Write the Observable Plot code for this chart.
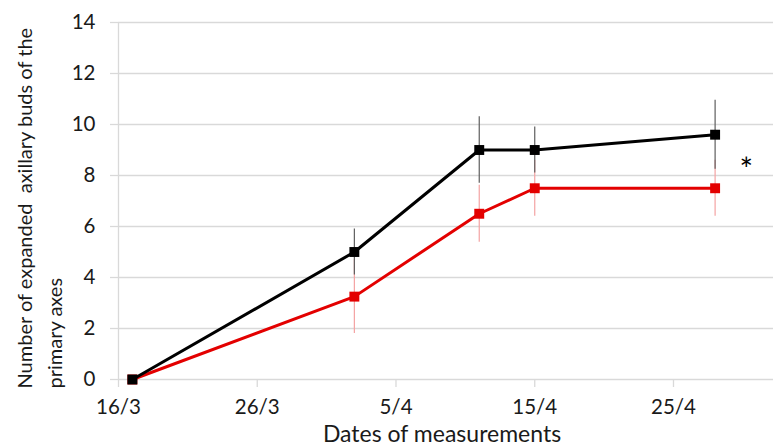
<!DOCTYPE html>
<html>
<head>
<meta charset="utf-8">
<script src="https://cdn.jsdelivr.net/npm/d3@7"></script>
<script src="https://cdn.jsdelivr.net/npm/@observablehq/plot@0.6"></script>
<style>
  html, body { margin: 0; padding: 0; background: #fff; }
  #chart svg { display: block; }
</style>
</head>
<body>
<div id="chart"></div>
<script>
// ---- data ----
const dates = ["2013-03-17", "2013-04-02", "2013-04-11", "2013-04-15", "2013-04-28"];
const blackValues = [0, 5.0, 9.0, 9.0, 9.6];
const blackErrors = [0, 0.9, 1.3, 0.9, 1.35];
const redValues = [0, 3.25, 6.5, 7.5, 7.5];
const redErrors = [0, 1.45, 1.12, 1.1, 1.1];
const xTicks = ["2013-03-16", "2013-03-26", "2013-04-05", "2013-04-15", "2013-04-25"];
const yTicks = [0, 2, 4, 6, 8, 10, 12, 14];
const xDomain = ["2013-03-16", "2013-05-02T05:00"];
const yLabelLines = ["Number of expanded  axillary buds of the", "primary axes"];
const xLabel = "Dates of measurements";
const significance = [{date: "2013-04-30T06:00", value: 8.55, label: "*"}];

const parse = s => new Date(s + (s.includes("T") ? "Z" : "T00:00Z"));
const black = dates.map((d, i) => ({date: parse(d), v: blackValues[i], e: blackErrors[i]}));
const red = dates.map((d, i) => ({date: parse(d), v: redValues[i], e: redErrors[i]}));
const sig = significance.map(s => ({...s, date: parse(s.date)}));

const font = "Lato, 'Open Sans', sans-serif";
const grid = "#d9d9d9";
const ink = "#1a1a1a";

const chart = Plot.plot({
  width: 773,
  height: 448,
  marginLeft: 118,
  marginRight: 0,
  marginTop: 22,
  marginBottom: 69,
  style: {fontFamily: font, fontSize: "20px", color: ink, background: "#fff"},
  x: {type: "utc", domain: xDomain.map(parse)},
  y: {domain: [0, 14]},
  marks: [
    Plot.ruleY(yTicks, {stroke: grid, strokeWidth: 1.3}),
    Plot.ruleX([parse(xDomain[0])], {y1: 0, y2: 14, stroke: grid, strokeWidth: 1.3}),
    Plot.axisY(yTicks, {tickSize: 8, tickPadding: 15, stroke: grid, strokeWidth: 1.3, fontSize: 20.5, fill: ink, label: null}),
    Plot.axisX(xTicks.map(parse), {tickSize: 8, tickPadding: 12, stroke: grid, strokeWidth: 1.3, fontSize: 20.5, fill: ink, label: null,
      tickFormat: d => `${d.getUTCDate()}/${d.getUTCMonth() + 1}`}),
    // red series
    Plot.ruleX(red, {x: "date", y1: d => d.v - d.e, y2: d => d.v + d.e, stroke: "#f4a3a3", strokeWidth: 1.2}),
    Plot.line(red, {x: "date", y: "v", stroke: "#e30000", strokeWidth: 3}),
    Plot.dot(red, {x: "date", y: "v", symbol: "square", r: 5.6, fill: "#e30000"}),
    // black series
    Plot.ruleX(black, {x: "date", y1: d => d.v - d.e, y2: d => d.v + d.e, stroke: "#5e5e5e", strokeWidth: 1.2}),
    Plot.line(black, {x: "date", y: "v", stroke: "#000", strokeWidth: 3}),
    Plot.dot(black, {x: "date", y: "v", symbol: "square", r: 5.6, fill: "#000"}),
    Plot.text(sig, {x: "date", y: "value", text: "label", fontSize: 32, dy: 9, fill: "#000"}),
    // axis titles
    Plot.text([yLabelLines[0]], {frameAnchor: "bottom-left", rotate: -90, textAnchor: "start", lineAnchor: "middle",
      dx: -93, dy: 9, fontSize: 20, fill: ink}),
    Plot.text([yLabelLines[1]], {frameAnchor: "bottom-left", rotate: -90, textAnchor: "start", lineAnchor: "middle",
      dx: -63, dy: 9, fontSize: 20, fill: ink}),
    Plot.text([xLabel], {frameAnchor: "bottom", dx: -4, dy: 62, fontSize: 23, fill: ink})
  ]
});
document.getElementById("chart").appendChild(chart);
</script>
</body>
</html>
